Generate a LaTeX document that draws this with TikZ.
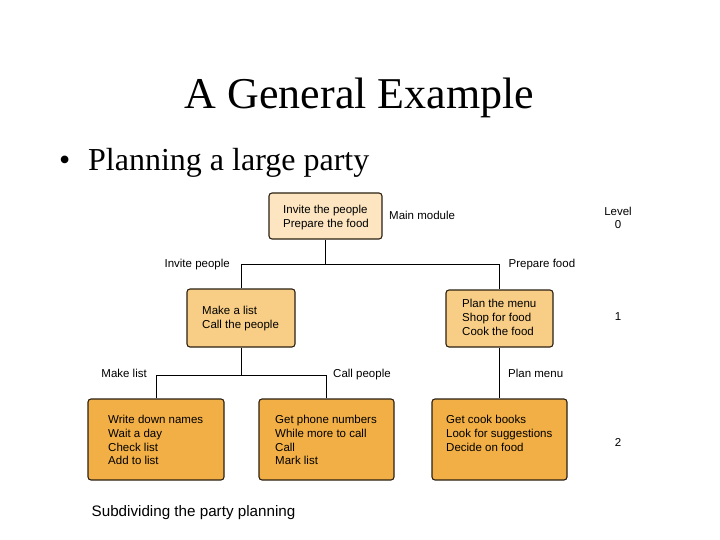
\documentclass[tikz,border=0pt]{standalone}
\usepackage{fontspec}
\setmainfont{Liberation Serif}
\newfontfamily\boxfont{Liberation Sans}
\definecolor{lvlA}{HTML}{FCE5C0}
\definecolor{lvlB}{HTML}{F8CE86}
\definecolor{lvlC}{HTML}{F2AF45}
\definecolor{edge}{HTML}{2B2012}
\begin{document}
\begin{tikzpicture}[x=1pt,y=-1pt,
  box/.style={draw=edge, line width=1.1pt, rounded corners=3pt, inner sep=0pt},
  btext/.style={anchor=north west, inner sep=0pt, align=left, font=\boxfont\fontsize{11.5}{13.8}\selectfont},
  lab/.style={inner sep=0pt, font=\boxfont\fontsize{11.5}{13.8}\selectfont},
  conn/.style={draw=black, line width=0.9pt}]
\useasboundingbox (0,0) rectangle (720,540);
% title
\node[anchor=base, inner sep=0pt, font=\fontsize{44}{50}\selectfont] (title) at (359.5,109) {A General Example};
\node[anchor=base west, inner sep=0pt, font=\fontsize{32}{36}\selectfont] (bul) at (59,171) {\textbullet};
\node[anchor=base west, inner sep=0pt, font=\fontsize{32}{36}\selectfont] (sub) at (88,171) {Planning a large party};
% boxes
\node[box, fill=lvlA, minimum width=113pt, minimum height=46pt] (top) at (325.5,216) {};
\node[box, fill=lvlB, minimum width=108pt, minimum height=58pt] (l1L) at (241,318) {};
\node[box, fill=lvlB, minimum width=107pt, minimum height=57pt] (l1R) at (499.5,318.5) {};
\node[box, fill=lvlC, minimum width=136pt, minimum height=81pt] (l2a) at (156,439.5) {};
\node[box, fill=lvlC, minimum width=135pt, minimum height=81pt] (l2b) at (326.5,439.5) {};
\node[box, fill=lvlC, minimum width=135pt, minimum height=81pt] (l2c) at (499.5,439.5) {};
% box texts
\node[btext] (topT) at (283,205) {Invite the people\\Prepare the food};
\node[btext] (l1LT) at (202,306) {Make a list\\Call the people};
\node[btext] (l1RT) at (462,299) {Plan the menu\\Shop for food\\Cook the food};
\node[btext] (l2aT) at (108,415) {Write down names\\Wait a day\\Check list\\Add to list};
\node[btext] (l2bT) at (275,415) {Get phone numbers\\While more to call\\Call\\Mark list};
\node[btext] (l2cT) at (446,415) {Get cook books\\Look for suggestions\\Decide on food};
% connectors
\coordinate (j1) at (0,264);
\coordinate (j2) at (0,375);
\draw[conn] (top.south) -- (top.south |- j1);
\draw[conn] (l1L.north) -- (l1L.north |- j1) -- (l1R.north |- j1) -- (l1R.north);
\draw[conn] (l1L.south) -- (l1L.south |- j2);
\draw[conn] (l2a.north) -- (l2a.north |- j2) -- (l2b.north |- j2) -- (l2b.north);
\draw[conn] (l1R.south) -- (l2c.north);
% labels
\node[lab, anchor=base east] (labInv) at (230,267.7) {Invite people};
\node[lab, anchor=base west] (labPrep) at (508.5,267.5) {Prepare food};
\node[lab, anchor=base east] (labMake) at (147,377) {Make list};
\node[lab, anchor=base west] (labCall) at (333,377) {Call people};
\node[lab, anchor=base west] (labPlan) at (508,377) {Plan menu};
\node[lab, anchor=base west] (labMain) at (389,219.5) {Main module};
\node[lab, anchor=base] (lev) at (618,215) {Level};
\node[lab, anchor=base] (lev0) at (618,228.5) {0};
\node[lab, anchor=base] (lev1) at (618,320) {1};
\node[lab, anchor=base] (lev2) at (618,446.5) {2};
\node[anchor=base west, inner sep=0pt, font=\boxfont\fontsize{15.2}{18}\selectfont] (cap) at (91.5,516) {Subdividing the party planning};
\end{tikzpicture}
\end{document}
